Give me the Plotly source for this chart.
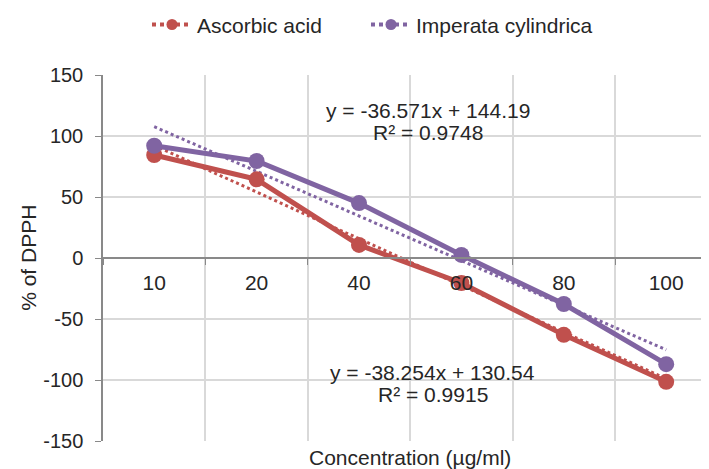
import plotly.graph_objects as go
import numpy as np

categories = ["10", "20", "40", "60", "80", "100"]
ascorbic = [84.4, 64.5, 10.7, -20.5, -63.0, -101.5]
imperata = [92.0, 79.5, 45.0, 2.5, -37.7, -87.0]
# trendline coefficients (slope, intercept) as printed on the chart
asc_fit = [-38.254, 130.54]
imp_fit = [-36.571, 144.19]
asc_eq = ["y = -38.254x + 130.54", "R² = 0.9915"]
imp_eq = ["y = -36.571x + 144.19", "R² = 0.9748"]
y_ticks = [-150, -100, -50, 0, 50, 100, 150]
y_ticktext = ["-150", "-100", "-50", "0", "50", "100", "150"]

RED = "#C0504D"
PURPLE = "#8064A2"
FONT = "Liberation Sans, Arial, sans-serif"
TXT = "#262626"
AXC = "#898989"

idx = np.arange(1, len(categories) + 1)
asc_trend = asc_fit[0] * idx + asc_fit[1]
imp_trend = imp_fit[0] * idx + imp_fit[1]

fig = go.Figure()
fig.add_trace(go.Scatter(x=categories, y=asc_trend, mode="lines",
                         line=dict(color=RED, width=3, dash="dot"),
                         showlegend=False, hoverinfo="skip"))
fig.add_trace(go.Scatter(x=categories, y=imp_trend, mode="lines",
                         line=dict(color=PURPLE, width=3, dash="dot"),
                         showlegend=False, hoverinfo="skip"))
fig.add_trace(go.Scatter(x=categories, y=ascorbic, mode="lines+markers",
                         line=dict(color=RED, width=5),
                         marker=dict(color=RED, size=16),
                         showlegend=False, name="Ascorbic acid"))
fig.add_trace(go.Scatter(x=categories, y=imperata, mode="lines+markers",
                         line=dict(color=PURPLE, width=5),
                         marker=dict(color=PURPLE, size=16),
                         showlegend=False, name="Imperata cylindrica"))
fig.add_trace(go.Scatter(x=[None], y=[None], mode="lines+markers",
                         line=dict(color=RED, width=4, dash="dot"),
                         marker=dict(color=RED, size=11),
                         name="Ascorbic acid"))
fig.add_trace(go.Scatter(x=[None], y=[None], mode="lines+markers",
                         line=dict(color=PURPLE, width=4, dash="dot"),
                         marker=dict(color=PURPLE, size=11),
                         name="Imperata cylindrica", legendwidth=185))

annos = [
    dict(x=2.674, y=121, text=imp_eq[0]),
    dict(x=2.674, y=103, text=imp_eq[1]),
    dict(x=2.72, y=-94, text=asc_eq[0]),
    dict(x=2.72, y=-112, text=asc_eq[1]),
]
annotations = [dict(xref="x", yref="y", showarrow=False, xanchor="center",
                    yanchor="middle", font=dict(size=21, color=TXT, family=FONT),
                    **a) for a in annos]
annotations.append(dict(xref="paper", yref="paper", x=0.5066, y=-0.0075,
                        yanchor="top", xanchor="center", showarrow=False,
                        text="Concentration (µg/ml)",
                        font=dict(size=21, color=TXT, family=FONT)))
annotations.append(dict(xref="paper", yref="paper", x=-0.124, y=0.5,
                        xanchor="center", yanchor="middle", showarrow=False,
                        textangle=-90, text="% of DPPH",
                        font=dict(size=21, color=TXT, family=FONT)))

# page body has an 8px default margin: the figure is sized/offset to compensate
fig.update_layout(
    width=701, height=461,
    margin=dict(l=95, r=0, t=67, b=28, autoexpand=False),
    paper_bgcolor="white", plot_bgcolor="white",
    font=dict(family=FONT, size=20, color=TXT),
    showlegend=True,
    legend=dict(orientation="h", x=0.0726, xanchor="left", y=1.137,
                yanchor="middle", itemwidth=40, entrywidth=164,
                font=dict(size=21, color=TXT, family=FONT),
                bgcolor="rgba(0,0,0,0)"),
    annotations=annotations,
    xaxis=dict(type="category", categoryorder="array", categoryarray=categories,
               range=[-0.5, 5.418], anchor="free", position=0.5,
               showline=True, linecolor=AXC, linewidth=1.5,
               ticks="outside", tickson="boundaries", ticklen=6,
               tickcolor=AXC, showgrid=True, gridcolor="#d9d9d9",
               gridwidth=1.5, tickfont=dict(size=21, color=TXT), zeroline=False,
               ticklabelstandoff=6),
    yaxis=dict(range=[-150, 150], tickvals=y_ticks, ticktext=y_ticktext,
               showline=True, linecolor=AXC, linewidth=1.5, ticks="outside",
               ticklen=6, tickcolor=AXC, showgrid=True, gridcolor="#d9d9d9",
               gridwidth=1.5, zeroline=False, tickfont=dict(size=20, color=TXT),
               ticklabelstandoff=8),
)

fig.write_html("out.html")
